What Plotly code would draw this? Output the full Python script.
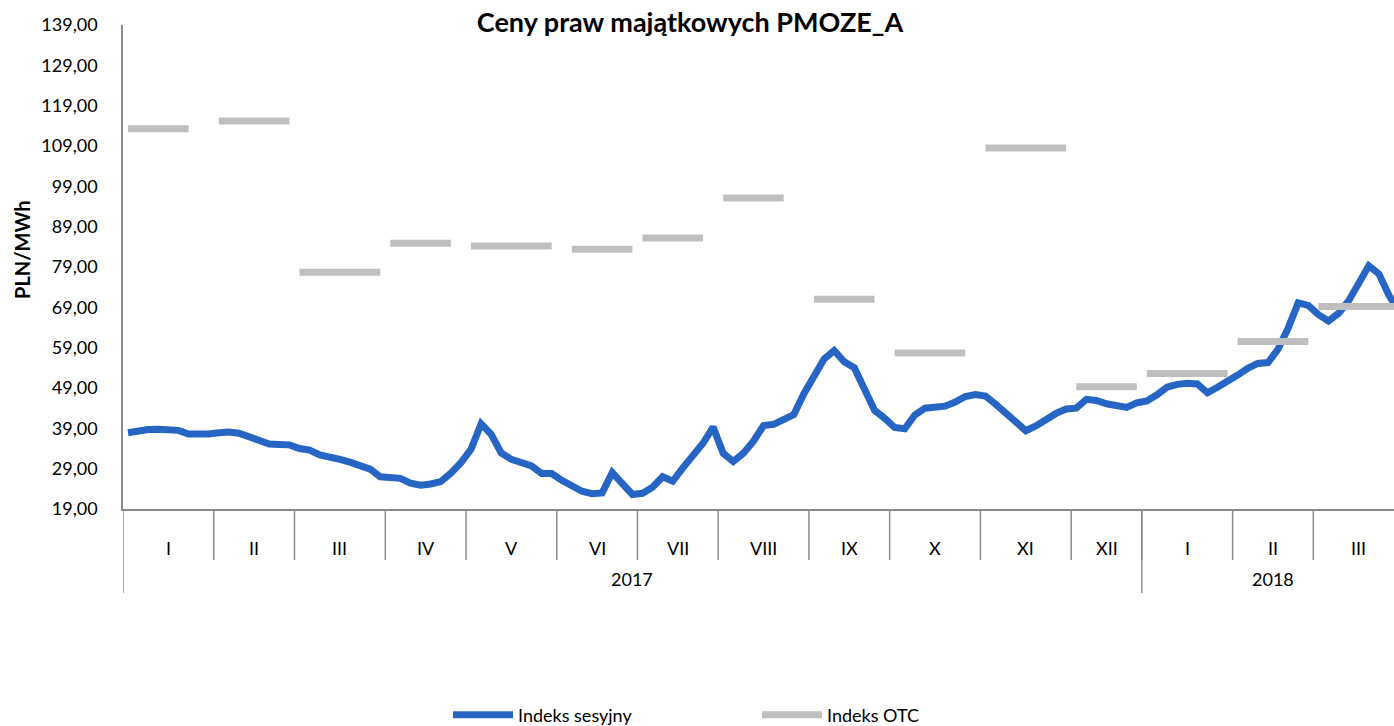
import plotly.graph_objects as go

# ---------------- data ----------------
years = ["2017", "2018"]
months_per_year = [12, 3]
month_labels = ["I", "II", "III", "IV", "V", "VI", "VII", "VIII", "IX", "X", "XI", "XII",
                "I", "II", "III"]
sessions_per_month = [9, 8, 9, 8, 9, 8, 8, 9, 8, 9, 9, 7, 9, 8, 9]

indeks_sesyjny = [
    # I 2017
    37.9, 38.5, 38.7, 38.8, 38.8, 38.5, 37.6, 37.5, 37.6,
    # II
    37.9, 38.1, 37.8, 36.9, 36.0, 35.1, 35.0, 34.9,
    # III
    34.0, 33.6, 32.4, 32.0, 31.3, 30.6, 29.9, 28.9, 27.0,
    # IV
    26.9, 26.6, 25.4, 24.9, 25.2, 25.8, 27.9, 30.5,
    # V
    33.8, 40.1, 37.5, 32.9, 31.3, 30.3, 29.7, 27.8, 27.8,
    # VI
    26.1, 24.7, 23.4, 22.8, 23.0, 28.0, 25.0, 22.6,
    # VII
    22.9, 24.4, 27.0, 25.9, 29.2, 32.1, 35.3, 39.3,
    # VIII
    32.8, 30.8, 32.8, 35.8, 39.7, 40.0, 41.0, 42.4, 47.6,
    # IX
    51.9, 56.2, 58.3, 55.5, 54.0, 48.8, 43.5, 41.5,
    # X
    39.2, 38.9, 42.3, 44.0, 44.2, 44.5, 45.5, 46.9, 47.4,
    # XI
    47.0, 45.0, 42.8, 40.5, 38.4, 39.6, 41.2, 42.7, 43.8,
    # XII
    44.0, 46.2, 45.9, 45.1, 44.5, 44.2, 45.3,
    # I 2018
    45.8, 47.3, 49.2, 49.9, 50.2, 50.0, 47.8, 49.2, 50.5,
    # II
    52.2, 53.9, 55.1, 55.3, 58.6, 63.8, 70.1, 69.5,
    # III
    67.2, 65.6, 67.5, 70.6, 75.0, 79.3, 77.3, 72.0, 68.0,
]

indeks_otc = [113.3, 115.2, 77.7, 84.9, 84.2, 83.4, 86.2, 96.1, 71.0, 57.7, 108.5, 49.3,
              52.6, 60.5, 69.2]
otc_first_session = [0, 0, 0, 0, 0, 1, 0, 0, 0, 0, 0, 0, 0, 0, 0]
otc_last_session = [6, 7, 8, 6, 8, 7, 6, 6, 6, 7, 8, 6, 8, 7, 8]

y_ticks = [19, 29, 39, 49, 59, 69, 79, 89, 99, 109, 119, 129, 139]

# ---------------- derived positions ----------------
month_start = []
pos = 0
for n in sessions_per_month:
    month_start.append(pos)
    pos += n
n_total = pos
x_idx = list(range(n_total))

otc_x, otc_y = [], []
for m, v in enumerate(indeks_otc):
    a = month_start[m] + otc_first_session[m]
    b = month_start[m] + otc_last_session[m]
    otc_x += [a, b, None]
    otc_y += [v, v, None]

FONT = "Lato, Carlito, Calibri, sans-serif"
BLUE = "#2665C4"
GREY = "#BFBFBF"
AXIS = "#8C8C8C"

fig = go.Figure()
fig.add_trace(go.Scatter(x=x_idx, y=indeks_sesyjny, mode="lines", name="Indeks sesyjny",
                         line=dict(color=BLUE, width=7, shape="linear")))
fig.add_trace(go.Scatter(x=otc_x, y=otc_y, mode="lines", name="Indeks OTC",
                         connectgaps=False, line=dict(color=GREY, width=7)))

# category axis decorations
plot_h = 726 - 25 - 217
def py(pix):  # pixel below axis -> paper y
    return -pix / plot_h

shapes = []
annotations = []
for m in range(1, len(sessions_per_month)):
    xb = month_start[m] - 0.5
    shapes.append(dict(type="line", xref="x", yref="paper", x0=xb, x1=xb,
                       y0=0, y1=py(51), line=dict(color=AXIS, width=1.5)))
    if m == months_per_year[0]:
        shapes.append(dict(type="line", xref="x", yref="paper", x0=xb, x1=xb,
                           y0=0, y1=py(84), line=dict(color=AXIS, width=1.5)))
shapes.append(dict(type="line", xref="x", yref="paper", x0=-0.5, x1=-0.5,
                   y0=0, y1=py(84), line=dict(color=AXIS, width=1.5)))

for m, lab in enumerate(month_labels):
    xc = month_start[m] + (sessions_per_month[m] - 1) / 2
    annotations.append(dict(text=lab, x=xc, y=py(39), xref="x", yref="paper",
                            xanchor="center", yanchor="middle", showarrow=False,
                            font=dict(size=18, color="#000000", family=FONT)))
mi = 0
for yr, nm in zip(years, months_per_year):
    s = month_start[mi]
    e = month_start[mi + nm - 1] + sessions_per_month[mi + nm - 1] - 1
    annotations.append(dict(text=yr, x=(s + e) / 2, y=py(70), xref="x", yref="paper",
                            xanchor="center", yanchor="middle", showarrow=False,
                            font=dict(size=18, color="#000000", family=FONT)))
    mi += nm

annotations.append(dict(text="<b>PLN/MWh</b>", textangle=-90, x=-101 / 1271, y=(509 - 250) / plot_h,
                        xref="paper", yref="paper", showarrow=False, xanchor="center", yanchor="middle",
                        font=dict(size=20, color="#000000", family=FONT)))

fig.update_layout(
    width=1394, height=726,
    margin=dict(l=123, r=0, t=25, b=217, autoexpand=False),
    paper_bgcolor="white", plot_bgcolor="white",
    separators=", ",
    title=dict(text="<b>Ceny praw majątkowych PMOZE_A</b>", x=690 / 1394, xanchor="center",
               y=1 - 23 / 726, yanchor="middle",
               font=dict(size=27, color="#000000", family=FONT)),
    xaxis=dict(range=[-0.5, n_total - 1.5], showgrid=False, zeroline=False, showticklabels=False,
               showline=True, linecolor=AXIS, linewidth=1.5, ticks=""),
    yaxis=dict(range=[19, 139], tickvals=y_ticks, tickformat=".2f", showgrid=False, zeroline=False,
               showline=True, linecolor=AXIS, linewidth=1.5, ticks="", ticklabelstandoff=20,
               tickfont=dict(size=18, color="#000000", family=FONT)),
    showlegend=True,
    legend=dict(orientation="h", x=(448 - 123) / 1271, xanchor="left", y=py(206), yanchor="middle",
                entrywidth=234, entrywidthmode="pixels", itemwidth=60,
                font=dict(size=18, color="#000000", family=FONT), bgcolor="rgba(0,0,0,0)"),
    shapes=shapes, annotations=annotations,
)

fig.write_html("out.html", config={"displayModeBar": False})

# remove default page margin so the figure sits at the window's origin
with open("out.html", "r", encoding="utf-8") as f:
    html = f.read()
html = html.replace("<body>", '<body style="margin:0;padding:0;overflow:hidden">', 1)
with open("out.html", "w", encoding="utf-8") as f:
    f.write(html)
